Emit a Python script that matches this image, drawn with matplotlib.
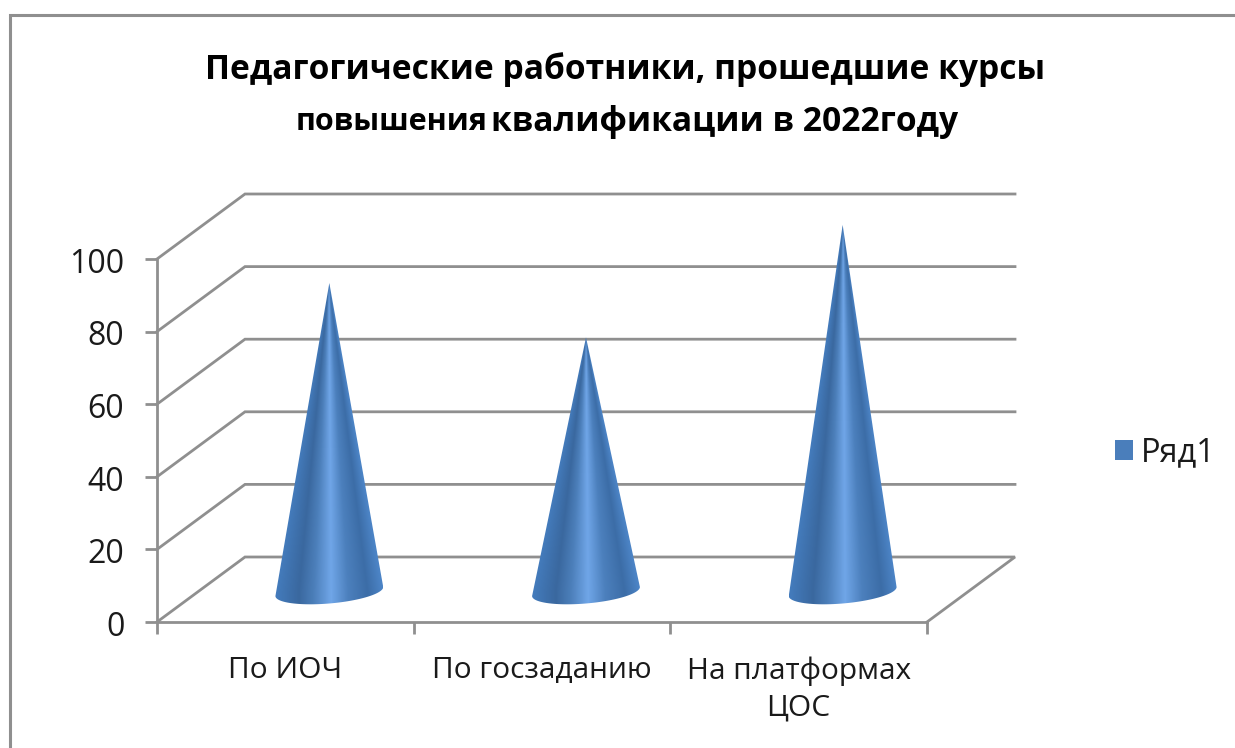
"""Педагогические работники: 3D-style cone chart drawn on plain 2D axes."""
import numpy as np
import matplotlib
matplotlib.use("Agg")
import matplotlib.pyplot as plt
from matplotlib.colors import LinearSegmentedColormap
from matplotlib.lines import Line2D
from matplotlib.patches import PathPatch, Patch
from matplotlib.path import Path
from matplotlib.transforms import ScaledTranslation

plt.rcParams["font.family"] = ["Open Sans", "DejaVu Sans"]

# ── Data ────────────────────────────────────────────────────────────────────
categories = ["По ИОЧ", "По госзаданию", "На платформах\nЦОС"]
values = [85, 70, 101]
y_ticks = [0, 20, 40, 60, 80, 100]
series_name = "Ряд1"
title_line1 = "Педагогические работники, прошедшие курсы"
title_small = "повышения"
title_rest = "квалификации в 2022году"

# ── Layout (pixels of the 1235x748 canvas) ──────────────────────────────────
W, H = 1235, 748
LEFT, RIGHT, BOTTOM, TOP = 157, 927, 622, 259
GRAY = "#8f8f8f"
TEXT = "#1a1a1a"

# depth of the fake 3D box and cone base, in data units
DEPTH_X = 88 / ((RIGHT - LEFT) / 3)
DEPTH_Y = 65 / ((BOTTOM - TOP) / 100)
BASE_Y = 8.4
HALF_W = 0.21
BASE_H = 3.3
BASE_TILT = 1.24

cone_cmap = LinearSegmentedColormap.from_list("cone", [
    (0.00, "#447cbd"), (0.22, "#3a689f"), (0.36, "#4c7fba"),
    (0.52, "#70a6e8"), (0.68, "#4c80bd"), (0.86, "#3c6da7"),
    (1.00, "#4c84c6"),
])


def draw_box(ax):
    for v in y_ticks[1:]:
        ax.plot([0, DEPTH_X, 3 + DEPTH_X], [v, v + DEPTH_Y, v + DEPTH_Y],
                color=GRAY, lw=2.0, clip_on=False, zorder=1,
                solid_joinstyle="miter")
    ax.plot([0, DEPTH_X, 3 + DEPTH_X, 3], [0, DEPTH_Y, DEPTH_Y, 0],
            color=GRAY, lw=2.0, clip_on=False, zorder=1,
            solid_joinstyle="miter")


def draw_cone(ax, xc, value):
    apex = BASE_Y + value
    t = np.linspace(0, -np.pi, 80)
    xs = xc + HALF_W * np.cos(t)
    ys = BASE_Y + BASE_TILT * np.cos(t) + BASE_H * np.sin(t)
    verts = [(xc, apex)] + list(zip(xs, ys)) + [(xc, apex)]
    codes = [Path.MOVETO] + [Path.LINETO] * (len(verts) - 2) + [Path.CLOSEPOLY]
    patch = PathPatch(Path(verts, codes), transform=ax.transData,
                      facecolor="none", edgecolor="none", clip_on=False)
    ax.add_patch(patch)

    # shading follows the cone surface, so it narrows towards the apex
    x_left, x_right = xc - HALF_W, xc + HALF_W
    y_low, y_high = BASE_Y - BASE_H - 1, apex
    gx, gy = np.meshgrid(np.linspace(x_left, x_right, 240),
                         np.linspace(y_low, y_high, 500))
    half = HALF_W * np.clip((apex - gy) / value, 0.002, 1.0)
    shade = np.clip((gx - xc) / half * 0.5 + 0.5, 0, 1)
    im = ax.imshow(shade, extent=(x_left, x_right, y_low, y_high),
                   origin="lower", cmap=cone_cmap, vmin=0, vmax=1,
                   aspect="auto", zorder=3, interpolation="bilinear")
    # tallest cone pokes out above the value axis, so widen the clip box
    im.set_clip_box(ax.figure.bbox)
    im.set_clip_path(patch)


def main():
    fig = plt.figure(figsize=(W / 100, H / 100), dpi=100, facecolor="white")
    ax = fig.add_axes([LEFT / W, 1 - BOTTOM / H,
                       (RIGHT - LEFT) / W, (BOTTOM - TOP) / H])

    draw_box(ax)
    for i, value in enumerate(values):
        draw_cone(ax, i + 0.5 + DEPTH_X / 2, value)

    ax.set_xlim(0, 3)
    ax.set_ylim(0, 100)
    ax.patch.set_alpha(0)
    for side in ("top", "right"):
        ax.spines[side].set_visible(False)
    for side in ("left", "bottom"):
        ax.spines[side].set_color(GRAY)
        ax.spines[side].set_linewidth(2.0)

    ax.set_yticks(y_ticks)
    ax.tick_params(axis="y", length=8.5, width=2.0, color=GRAY, pad=15,
                   labelsize=23, labelcolor=TEXT)
    # labels sit a touch below their ticks in the original
    nudge = ScaledTranslation(0, -1 / 72, fig.dpi_scale_trans)
    for label in ax.get_yticklabels():
        label.set_transform(label.get_transform() + nudge)

    ax.set_xticks([0, 1, 2, 3])
    ax.set_xticklabels([])
    ax.set_xticks([0.5, 1.5, 2.5], categories, minor=True)
    ax.tick_params(axis="x", which="major", length=8.5, width=2.0, color=GRAY)
    ax.tick_params(axis="x", which="minor", length=0, pad=24.5,
                   labelsize=21.5, labelcolor=TEXT)
    for label in ax.get_xticklabels(minor=True):
        label.set_linespacing(1.35)

    # chart-area border runs off the right and bottom of the picture
    fig.add_artist(Line2D([9.5 / W, 9.5 / W, 1], [0, 1 - 15 / H, 1 - 15 / H],
                          color=GRAY, lw=2.2, solid_joinstyle="miter"))

    fig.text(625 / W, 1 - 70 / H, title_line1, ha="center", va="center",
             fontsize=24.2, fontweight="bold", color="black")
    fig.text(296 / W, 1 - 118 / H, title_small, ha="left", va="center_baseline",
             fontsize=22, fontweight="bold", color="black")
    fig.text(491 / W, 1 - 118 / H, title_rest, ha="left", va="center_baseline",
             fontsize=24.2, fontweight="bold", color="black")

    handle = Patch(facecolor="#4a7ebb", edgecolor="none", label=series_name)
    fig.legend(handles=[handle], loc="center left",
               bbox_to_anchor=(1086 / W, 1 - 453 / H), frameon=False,
               fontsize=23.5, labelcolor=TEXT, handlelength=0.55,
               handleheight=0.55, handletextpad=0.22)

    fig.savefig("out.png", dpi=100)


if __name__ == "__main__":
    main()
